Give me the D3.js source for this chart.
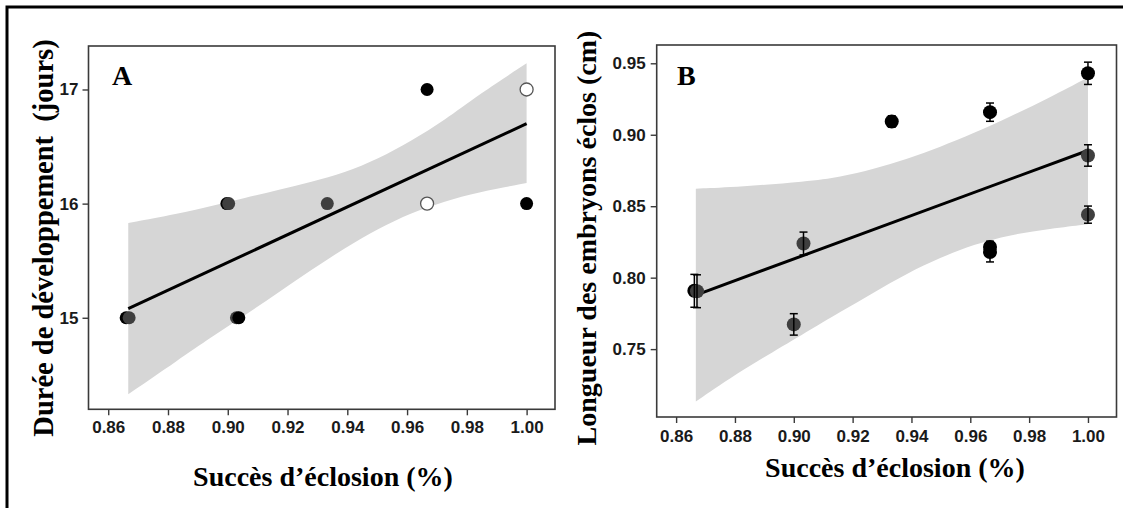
<!DOCTYPE html>
<html>
<head>
<meta charset="utf-8">
<script src="https://cdn.jsdelivr.net/npm/d3@7"></script>
<style>
  html, body { margin: 0; padding: 0; background: #fff; }
  svg { display: block; }
</style>
</head>
<body>
<svg id="chart" width="1123" height="508"></svg>
<script>
// ---------------- Panel A data ----------------
const aSuccess = [0.8660, 0.8670, 0.8997, 0.9003, 0.9029, 0.9037, 0.9333, 0.9667, 0.9667, 1.0000, 1.0000];
const aDays    = [15, 15, 16, 16, 15, 15, 16, 17, 16, 17, 16];
const aGroup   = ["g1", "g2", "g1", "g2", "g2", "g1", "g2", "g1", "g3", "g3", "g1"];
const aFitX    = [0.8667, 1.0];
const aFitY    = [15.08, 16.70];
const aBandX   = [0.8667, 0.8834, 0.8945, 0.9057, 0.9168, 0.9280, 0.9391, 0.9503, 0.9614, 0.9726, 0.9837, 1.0];
const aBandHi  = [15.83, 15.91, 15.98, 16.05, 16.12, 16.19, 16.27, 16.39, 16.55, 16.73, 16.95, 17.23];
const aBandLo  = [14.33, 14.63, 14.83, 15.02, 15.22, 15.42, 15.61, 15.78, 15.92, 16.02, 16.10, 16.18];
const aYTicks  = [15, 16, 17];

// ---------------- Panel B data ----------------
const bSuccess = [0.8662, 0.8671, 0.9000, 0.9033, 0.9333, 0.9667, 0.9667, 0.9667, 1.0000, 1.0000, 1.0000];
const bLength  = [0.7908, 0.7905, 0.7673, 0.8239, 0.9093, 0.9158, 0.8215, 0.8180, 0.9430, 0.8855, 0.8441];
const bErr     = [0.0115, 0.0115, 0.0075, 0.0080, 0.0040, 0.0064, 0.0040, 0.0070, 0.0078, 0.0075, 0.0060];
const bGroup   = ["g1", "g2", "g2", "g2", "g1", "g1", "g1", "g1", "g1", "g2", "g2"];
const bFitX    = [0.8667, 1.0];
const bFitY    = [0.7878, 0.8890];
const bBandX   = [0.8667, 0.8818, 0.9044, 0.9158, 0.9271, 0.9385, 0.9498, 0.9611, 0.9735, 0.9872, 1.0];
const bBandHi  = [0.8623, 0.8637, 0.8672, 0.8704, 0.8760, 0.8830, 0.8915, 0.9010, 0.9125, 0.9263, 0.9400];
const bBandLo  = [0.7133, 0.7347, 0.7620, 0.7760, 0.7895, 0.8030, 0.8140, 0.8232, 0.8300, 0.8343, 0.8374];
const bYTicks  = [0.75, 0.80, 0.85, 0.90, 0.95];

const xTicks = [0.86, 0.88, 0.90, 0.92, 0.94, 0.96, 0.98, 1.00];

const xTitle = "Succès d’éclosion (%)";
const aYTitle = "Durée de développement  (jours)";
const bYTitle = "Longueur des embryons éclos (cm)";

// ---------------- drawing ----------------
const svg = d3.select("#chart");
const SANS = "'Liberation Sans', Arial, Helvetica, sans-serif";
const SERIF = "'Liberation Serif', 'Times New Roman', Times, serif";

// outer frame (top + left visible)
svg.append("path")
  .attr("d", "M7,520 L7,7 L1130,7")
  .attr("fill", "none").attr("stroke", "#000").attr("stroke-width", 3);

const color = d3.scaleOrdinal().domain(["g1", "g2", "g3"]).range(["#000000", "#3f3f3f", "#ffffff"]);
const stroke = d3.scaleOrdinal().domain(["g1", "g2", "g3"]).range(["#000000", "#3f3f3f", "#555555"]);

function panel(cfg) {
  const g = svg.append("g");
  const x = d3.scaleLinear().domain(cfg.xDom).range([cfg.left, cfg.right]);
  const y = d3.scaleLinear().domain(cfg.yDom).range([cfg.bottom, cfg.top]);

  // band
  const band = cfg.bandX.map((v, i) => ({x: v, lo: cfg.bandLo[i], hi: cfg.bandHi[i]}));
  g.append("path").datum(band)
    .attr("d", d3.area().x(d => x(d.x)).y0(d => y(d.lo)).y1(d => y(d.hi)).curve(d3.curveBasis))
    .attr("fill", "#d6d6d6");

  // fit line
  const fit = cfg.fitX.map((v, i) => ({x: v, y: cfg.fitY[i]}));
  g.append("path").datum(fit)
    .attr("d", d3.line().x(d => x(d.x)).y(d => y(d.y)))
    .attr("fill", "none").attr("stroke", "#000").attr("stroke-width", 3);

  // points
  const pts = cfg.px.map((v, i) => ({x: v, y: cfg.py[i], g: cfg.pg[i], e: cfg.pe ? cfg.pe[i] : null}));
  g.selectAll("circle.pt").data(pts).join("circle")
    .attr("class", "pt")
    .attr("cx", d => x(d.x)).attr("cy", d => y(d.y)).attr("r", cfg.r)
    .attr("fill", d => color(d.g))
    .attr("stroke", d => stroke(d.g))
    .attr("stroke-width", d => d.g === "g3" ? 1.3 : 0);

  if (cfg.pe) {
    const eb = g.selectAll("g.eb").data(pts).join("g").attr("class", "eb")
      .attr("stroke", "#000").attr("stroke-width", 1.5);
    eb.append("line")
      .attr("x1", d => x(d.x)).attr("x2", d => x(d.x))
      .attr("y1", d => y(d.y - d.e)).attr("y2", d => y(d.y + d.e));
    eb.append("line")
      .attr("x1", d => x(d.x) - 4).attr("x2", d => x(d.x) + 4)
      .attr("y1", d => y(d.y - d.e)).attr("y2", d => y(d.y - d.e));
    eb.append("line")
      .attr("x1", d => x(d.x) - 4).attr("x2", d => x(d.x) + 4)
      .attr("y1", d => y(d.y + d.e)).attr("y2", d => y(d.y + d.e));
  }

  // box
  g.append("rect")
    .attr("x", cfg.left).attr("y", cfg.top)
    .attr("width", cfg.right - cfg.left).attr("height", cfg.bottom - cfg.top)
    .attr("fill", "none").attr("stroke", "#3a3a3a").attr("stroke-width", 1.6);

  // axes
  const ax = g.append("g").attr("transform", `translate(0,${cfg.bottom})`)
    .call(d3.axisBottom(x).tickValues(xTicks).tickFormat(d3.format(".2f")).tickSize(6).tickPadding(cfg.xPad));
  const ay = g.append("g").attr("transform", `translate(${cfg.left},0)`)
    .call(d3.axisLeft(y).tickValues(cfg.yTicks).tickFormat(cfg.yFmt).tickSize(6).tickPadding(cfg.yPad));
  [ax, ay].forEach(a => {
    a.select(".domain").remove();
    a.selectAll(".tick line").attr("stroke", "#3a3a3a").attr("stroke-width", 1.4);
    a.selectAll(".tick text")
      .attr("fill", "#1a1a1a")
      .style("font-family", SANS).style("font-weight", "700").style("font-size", "17px");
  });

  // panel letter
  g.append("text").attr("x", cfg.letterX).attr("y", 85)
    .style("font-family", SERIF).style("font-weight", "700").style("font-size", "28px")
    .text(cfg.letter);

  // titles
  g.append("text").attr("x", cfg.xTitleX).attr("y", cfg.xTitleY)
    .attr("text-anchor", "middle")
    .style("font-family", SERIF).style("font-weight", "700").style("font-size", "28px")
    .text(xTitle);
  g.append("text")
    .attr("transform", `translate(${cfg.yTitleX},${cfg.yTitleY}) rotate(-90)`)
    .attr("text-anchor", "middle")
    .style("white-space", "pre")
    .style("font-family", SERIF).style("font-weight", "700").style("font-size", cfg.yTitleSize)
    .text(cfg.yTitle);
}

panel({
  left: 88.5, right: 555, top: 46, bottom: 409.3,
  xDom: [0.8534, 1.0095], yDom: [14.198, 17.381],
  bandX: aBandX, bandLo: aBandLo, bandHi: aBandHi,
  fitX: aFitX, fitY: aFitY,
  px: aSuccess, py: aDays, pg: aGroup, r: 6.5,
  yTicks: aYTicks, yFmt: d3.format("d"), xPad: 6, yPad: 4,
  letter: "A", letterX: 112,
  xTitleX: 323, xTitleY: 486,
  yTitle: aYTitle, yTitleX: 53, yTitleY: 238, yTitleSize: "28.5px"
});

panel({
  left: 656.7, right: 1116.5, top: 45, bottom: 417,
  xDom: [0.8534, 1.0097], yDom: [0.7025, 0.9628],
  bandX: bBandX, bandLo: bBandLo, bandHi: bBandHi,
  fitX: bFitX, fitY: bFitY,
  px: bSuccess, py: bLength, pg: bGroup, pe: bErr, r: 7,
  yTicks: bYTicks, yFmt: d3.format(".2f"), xPad: 7, yPad: 5,
  letter: "B", letterX: 677,
  xTitleX: 895, xTitleY: 477,
  yTitle: bYTitle, yTitleX: 596, yTitleY: 238, yTitleSize: "28px"
});
</script>
</body>
</html>
